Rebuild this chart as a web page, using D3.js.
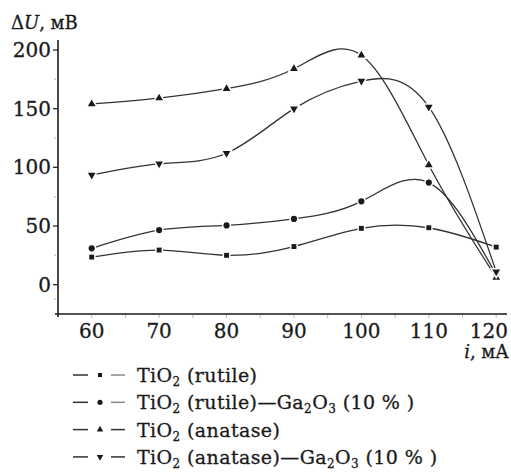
<!DOCTYPE html>
<html>
<head>
<meta charset="utf-8">
<script src="https://cdn.jsdelivr.net/npm/d3@7"></script>
<style>
  body { margin: 0; background: #fff; }
  svg { display: block; font-family: "DejaVu Serif", "Liberation Serif", serif; }
  text { stroke: #1a1a1a; stroke-width: 0.3px; }
</style>
</head>
<body>
<svg id="chart" width="511" height="472"></svg>
<script>
const currents = [60, 70, 80, 90, 100, 110, 120];
const rutile = [23.5, 29.5, 25, 32.5, 48, 48.5, 32];
const rutileGa = [31, 46.5, 50.5, 56, 71, 87, 8.5];
const anatase = [154, 159, 167, 184, 195.5, 102, 6];
const anataseGa = [93.5, 103, 112, 150, 173.5, 151.5, 11];
const yTicks = [0, 50, 100, 150, 200];
const xTicks = [60, 70, 80, 90, 100, 110, 120];

const series = [
  { values: rutile, symbol: d3.symbolSquare, size: 24, name: ["TiO", "2", " (rutile)"] },
  { values: rutileGa, symbol: d3.symbolCircle, size: 30, name: ["TiO", "2", " (rutile)\u2014Ga", "2", "O", "3", " (10 % )"] },
  { values: anatase, symbol: d3.symbolTriangle, size: 26, name: ["TiO", "2", " (anatase)"] },
  { values: anataseGa, symbol: d3.symbolTriangle, size: 26, flip: true, name: ["TiO", "2", " (anatase)\u2014Ga", "2", "O", "3", " (10 % )"] }
];

const svg = d3.select("#chart");

const x = d3.scaleLinear().domain([55, 121.6]).range([58, 507]);
const y = d3.scaleLinear().domain([-25, 200]).range([314, 50]);

const ink = "#1a1a1a";

// axes
const gx = svg.append("g").attr("transform", `translate(0,${y(-25)})`);
gx.append("line").attr("x1", 55).attr("x2", 507).attr("stroke", ink).attr("stroke-width", 1.6);
gx.selectAll(".tk").data(d3.range(60, 121, 5)).enter().append("line")
  .attr("x1", d => x(d)).attr("x2", d => x(d))
  .attr("y1", 1).attr("y2", 4)
  .attr("stroke", "#bbb").attr("stroke-width", 1);
gx.selectAll("text").data(xTicks).enter().append("text")
  .attr("x", d => d === 120 ? 508 : x(d)).attr("y", 24)
  .attr("text-anchor", d => d === 120 ? "end" : "middle")
  .attr("font-size", 20).attr("fill", ink)
  .text(d => d);

const gy = svg.append("g").attr("transform", `translate(${x(55)},0)`);
gy.append("line").attr("y1", 40).attr("y2", 317).attr("stroke", ink).attr("stroke-width", 1.6);
gy.selectAll(".minor").data([-12.5, 25, 75, 125, 175]).enter().append("line")
  .attr("x1", -4).attr("x2", -2)
  .attr("y1", d => y(d)).attr("y2", d => y(d))
  .attr("stroke", "#ccc").attr("stroke-width", 1.5);
gy.selectAll(".major").data(yTicks).enter().append("line")
  .attr("x1", -5).attr("x2", 0)
  .attr("y1", d => y(d)).attr("y2", d => y(d))
  .attr("stroke", ink).attr("stroke-width", 1.2);
gy.selectAll("text").data(yTicks).enter().append("text")
  .attr("x", -7).attr("y", d => y(d) + 7)
  .attr("text-anchor", "end").attr("font-size", 20).attr("fill", ink)
  .text(d => d);

// axis titles
const yt = svg.append("text").attr("x", 11).attr("y", 29).attr("font-size", 18).attr("fill", ink);
yt.append("tspan").text("\u0394");
yt.append("tspan").attr("font-style", "italic").text("U");
yt.append("tspan").text(", мВ");

const xt = svg.append("text").attr("x", 509).attr("y", 358).attr("text-anchor", "end").attr("font-size", 18).attr("fill", ink);
xt.append("tspan").attr("font-style", "italic").text("i");
xt.append("tspan").text(", мА");

// curves
const line = d3.line()
  .x((d, i) => x(currents[i]))
  .y(d => y(d))
  .curve(d3.curveNatural);

const plot = svg.append("g");
series.forEach(s => {
  plot.append("path")
    .attr("d", line(s.values))
    .attr("fill", "none")
    .attr("stroke", "#333")
    .attr("stroke-width", 1.3);
});

series.forEach(s => {
  plot.selectAll(null).data(s.values).enter().append("path")
    .attr("d", d3.symbol().type(s.symbol).size(s.size))
    .attr("transform", (d, i) => `translate(${x(currents[i])},${y(d)})` + (s.flip ? " rotate(180)" : ""))
    .attr("fill", ink)
    .attr("stroke", "#fff")
    .attr("stroke-width", 3)
    .attr("paint-order", "stroke");
});

// legend (pulled up a little so the last row is not clipped)
const legend = svg.append("g").attr("transform", "translate(0,375)");
series.forEach((s, k) => {
  const row = legend.append("g").attr("transform", `translate(0,${k * 27.3})`);
  row.append("line").attr("x1", 73).attr("x2", 88).attr("stroke", "#333").attr("stroke-width", 1.5);
  row.append("line").attr("x1", 111).attr("x2", 125).attr("stroke", k < 2 ? "#888" : "#333").attr("stroke-width", 1.5);
  row.append("path")
    .attr("d", d3.symbol().type(s.symbol).size(s.size * 0.7))
    .attr("transform", "translate(100,0)" + (s.flip ? " rotate(180)" : ""))
    .attr("fill", ink);
  const t = row.append("text").attr("x", 137).attr("y", 7).attr("font-size", 19)
    .attr("letter-spacing", 0.4).attr("fill", ink);
  s.name.forEach((part, j) => {
    const sub = j % 2 === 1;
    t.append("tspan")
      .attr("font-size", sub ? 12 : 19)
      .attr("dy", sub ? 4 : (j > 0 ? -4 : 0))
      .text(part);
  });
});
</script>
</body>
</html>
